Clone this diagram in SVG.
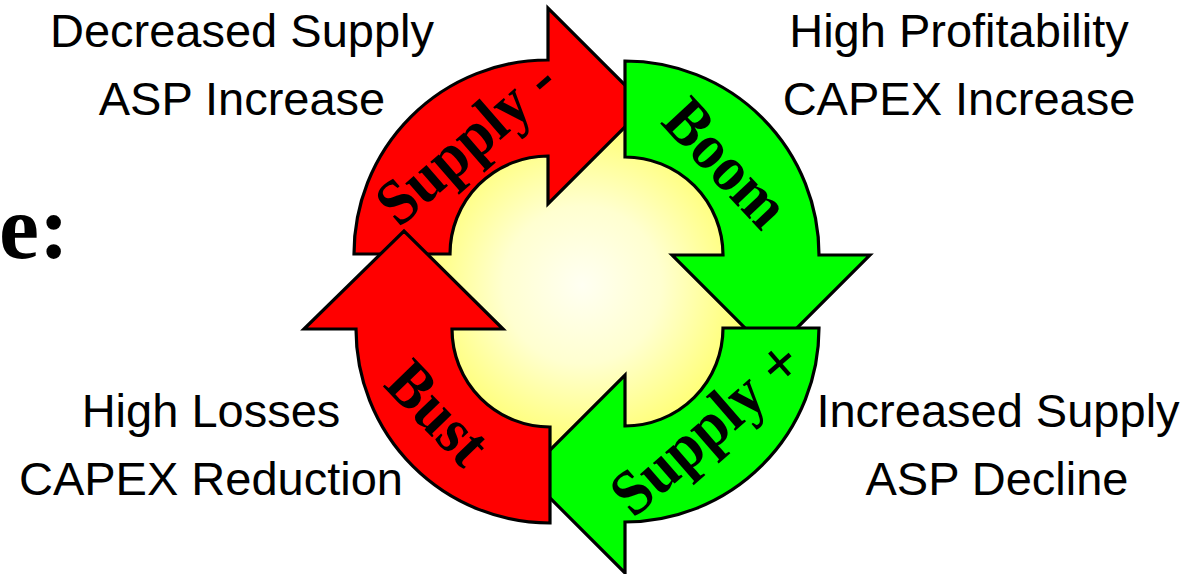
<svg xmlns="http://www.w3.org/2000/svg" width="1196" height="574" viewBox="0 0 1196 574">
  <defs>
    <radialGradient id="glow" cx="582" cy="285" r="175" gradientUnits="userSpaceOnUse">
      <stop offset="0" stop-color="#FFFFF2"/>
      <stop offset="0.45" stop-color="#FFFFD0"/>
      <stop offset="1" stop-color="#FFFF66"/>
    </radialGradient>
  </defs>
  <style>
    .arrow { stroke: #000; stroke-width: 3.2; stroke-linejoin: miter; }
    .red { fill: #FF0000; }
    .green { fill: #00FF00; }
    .lbl { font-family: "Liberation Serif", "Times New Roman", serif; font-weight: bold; font-size: 60px; fill: #000; text-anchor: middle; }
    .note { font-family: "Liberation Sans", Arial, sans-serif; font-size: 47px; fill: #000; text-anchor: middle; }
    .title { font-family: "Liberation Serif", "Times New Roman", serif; font-weight: bold; font-size: 90px; fill: #000; }
  </style>
  <rect width="1196" height="574" fill="#FFFFFF"/>
  <text class="title" x="-1" y="258">e:</text>
  <g id="hub">
    <circle cx="587" cy="291" r="170" fill="url(#glow)"/>
  </g>
  <g id="connectors">
    <g id="supply-minus">
      <path class="arrow red" d="M354,254 A194,194 0 0 1 548,60 L548,8 L646,106 L548,204 L548,156 A98,98 0 0 0 450,254 Z"/>
      <text class="lbl" transform="translate(468,144) rotate(-41) scale(1,1.08)" y="17">Supply -</text>
    </g>
    <g id="boom">
      <path class="arrow green" d="M625,61 A194,194 0 0 1 819,255 L870,255 L771,354 L672,255 L723,255 A98,98 0 0 0 625,157 Z"/>
      <text class="lbl" transform="translate(724,165) rotate(47) scale(1,1.08)" y="17">Boom</text>
    </g>
    <g id="supply-plus">
      <path class="arrow green" d="M819,328 A194,194 0 0 1 625,522 L625,573 L526,474 L625,375 L625,426 A98,98 0 0 0 723,328 Z"/>
      <text class="lbl" transform="translate(708,430) rotate(-41) scale(1,1.08)" y="17">Supply +</text>
    </g>
    <g id="bust">
      <path class="arrow red" d="M550,523 A194,194 0 0 1 356,329 L304,329 L404,231 L503,329 L452,329 A98,98 0 0 0 550,427 Z"/>
      <text class="lbl" transform="translate(436,415) rotate(46) scale(1,1.08)" y="17">Bust</text>
    </g>
  </g>
  <g id="note-supply-minus">
    <text class="note" x="242" y="47">Decreased Supply</text>
    <text class="note" x="242" y="115">ASP Increase</text>
  </g>
  <g id="note-boom">
    <text class="note" x="959" y="47">High Profitability</text>
    <text class="note" x="959" y="115">CAPEX Increase</text>
  </g>
  <g id="note-bust">
    <text class="note" x="211" y="427">High Losses</text>
    <text class="note" x="211" y="495">CAPEX Reduction</text>
  </g>
  <g id="note-supply-plus">
    <text class="note" x="998" y="427">Increased Supply</text>
    <text class="note" x="997" y="495">ASP Decline</text>
  </g>
</svg>
